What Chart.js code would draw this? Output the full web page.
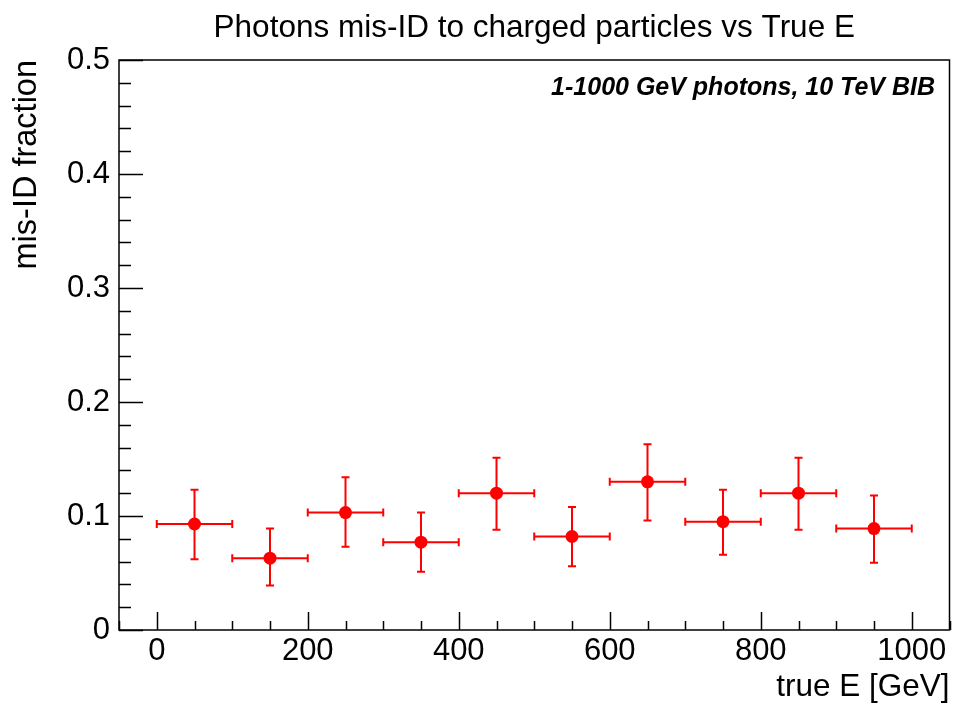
<!DOCTYPE html>
<html>
<head>
<meta charset="utf-8">
<script src="https://cdn.jsdelivr.net/npm/chart.js@4.4.1/dist/chart.umd.min.js"></script>
<style>
  html, body { margin: 0; padding: 0; background: #fff; }
  #wrap { width: 956px; height: 706px; }
</style>
</head>
<body>
<div id="wrap"><canvas id="misIdChart"></canvas></div>
<script>
// bin centres [GeV] and half widths
const energy = [50, 150, 250, 350, 450, 550, 650, 750, 850, 950];
const binHalfWidth = [50, 50, 50, 50, 50, 50, 50, 50, 50, 50];
// mis-ID fraction per bin, with asymmetric errors
const fraction = [0.093, 0.063, 0.103, 0.077, 0.120, 0.082, 0.130, 0.095, 0.120, 0.089];
const errHigh = [0.030, 0.026, 0.031, 0.026, 0.031, 0.026, 0.033, 0.028, 0.031, 0.029];
const errLow = [0.031, 0.024, 0.030, 0.026, 0.032, 0.026, 0.034, 0.029, 0.032, 0.030];
const xTickLabels = [0, 200, 400, 600, 800, 1000];
const yTickLabels = [0, 0.1, 0.2, 0.3, 0.4, 0.5];

const FONT = '"Liberation Sans", Arial, Helvetica, sans-serif';
const RED = '#ff0000';

const errorBars = {
    id: 'errorBars',
    beforeDatasetsDraw(chart) {
        const { ctx, scales: { x, y } } = chart;
        const cap = 4;
        ctx.save();
        ctx.strokeStyle = RED;
        ctx.lineWidth = 2;
        energy.forEach((e, i) => {
            const px = x.getPixelForValue(e);
            const py = y.getPixelForValue(fraction[i]);
            const x0 = x.getPixelForValue(e - binHalfWidth[i]);
            const x1 = x.getPixelForValue(e + binHalfWidth[i]);
            const yTop = y.getPixelForValue(fraction[i] + errHigh[i]);
            const yBot = y.getPixelForValue(fraction[i] - errLow[i]);
            ctx.beginPath();
            ctx.moveTo(x0, py); ctx.lineTo(x1, py);
            ctx.moveTo(x0, py - cap); ctx.lineTo(x0, py + cap);
            ctx.moveTo(x1, py - cap); ctx.lineTo(x1, py + cap);
            ctx.moveTo(px, yTop); ctx.lineTo(px, yBot);
            ctx.moveTo(px - cap, yTop); ctx.lineTo(px + cap, yTop);
            ctx.moveTo(px - cap, yBot); ctx.lineTo(px + cap, yBot);
            ctx.stroke();
        });
        ctx.restore();
    }
};

// ROOT-like frame with inward ticks and the title centred on the pad
const frame = {
    id: 'frame',
    afterDraw(chart) {
        const { ctx, chartArea: a, scales: { x, y } } = chart;
        ctx.save();
        ctx.strokeStyle = '#000';
        ctx.lineWidth = 1.5;
        ctx.strokeRect(a.left, a.top, a.right - a.left, a.bottom - a.top);

        ctx.beginPath();
        for (let v = x.min; v <= x.max + 1e-9; v += 50) {
            const px = Math.round(x.getPixelForValue(v)) + 0.5;
            const len = (v % 200 === 0) ? 18 : 9;
            ctx.moveTo(px, a.bottom); ctx.lineTo(px, a.bottom - len);
        }
        for (let i = 0; i <= 25; i++) {
            const py = Math.round(y.getPixelForValue(i * 0.02)) + 0.5;
            const len = (i % 5 === 0) ? 24 : 12;
            ctx.moveTo(a.left, py); ctx.lineTo(a.left + len, py);
        }
        ctx.stroke();

        ctx.fillStyle = '#000';
        ctx.textAlign = 'center';
        ctx.textBaseline = 'alphabetic';
        ctx.font = '31.5px ' + FONT;
        ctx.fillText('Photons mis-ID to charged particles vs True E', (a.left + a.right) / 2, 37);

        ctx.textAlign = 'right';
        ctx.font = 'italic bold 25px ' + FONT;
        ctx.fillText('1-1000 GeV photons, 10 TeV BIB', 935, 95);
        ctx.restore();
    }
};

const ctx = document.getElementById('misIdChart').getContext('2d');
new Chart(ctx, {
    type: 'scatter',
    data: {
        datasets: [{
            label: 'mis-ID fraction',
            data: energy.map((e, i) => ({ x: e, y: fraction[i] })),
            pointRadius: 6.5,
            pointHoverRadius: 6.5,
            backgroundColor: RED,
            borderColor: RED,
            borderWidth: 0
        }]
    },
    options: {
        responsive: true,
        maintainAspectRatio: false,
        animation: false,
        layout: { padding: { top: 60, right: 3, left: 0, bottom: 0 } },
        plugins: {
            legend: { display: false },
            tooltip: { enabled: false }
        },
        scales: {
            x: {
                type: 'linear',
                min: -50,
                max: 1050,
                afterBuildTicks: (scale) => {
                    scale.ticks = xTickLabels.map(v => ({ value: v }));
                },
                afterFit: (scale) => { scale.height = 76; },
                grid: { display: false, drawTicks: false },
                border: { display: false },
                ticks: {
                    color: '#000',
                    padding: 3,
                    maxRotation: 0,
                    font: { family: FONT, size: 31 },
                    callback: (v) => String(v)
                },
                title: {
                    display: true,
                    text: 'true E [GeV]',
                    align: 'end',
                    color: '#000',
                    padding: { top: 0, bottom: 0 },
                    font: { family: FONT, size: 31.5 }
                }
            },
            y: {
                min: 0,
                max: 0.5,
                afterBuildTicks: (scale) => {
                    scale.ticks = yTickLabels.map(v => ({ value: v }));
                },
                afterFit: (scale) => { scale.width = 119; },
                grid: { display: false, drawTicks: false },
                border: { display: false },
                ticks: {
                    color: '#000',
                    padding: 9,
                    font: { family: FONT, size: 31 },
                    callback: (v) => v === 0 ? '0' : Number(v).toFixed(1)
                },
                title: {
                    display: true,
                    text: 'mis-ID fraction',
                    align: 'end',
                    color: '#000',
                    padding: { top: 8, bottom: 0 },
                    font: { family: FONT, size: 32.5 }
                }
            }
        }
    },
    plugins: [errorBars, frame]
});
</script>
</body>
</html>
